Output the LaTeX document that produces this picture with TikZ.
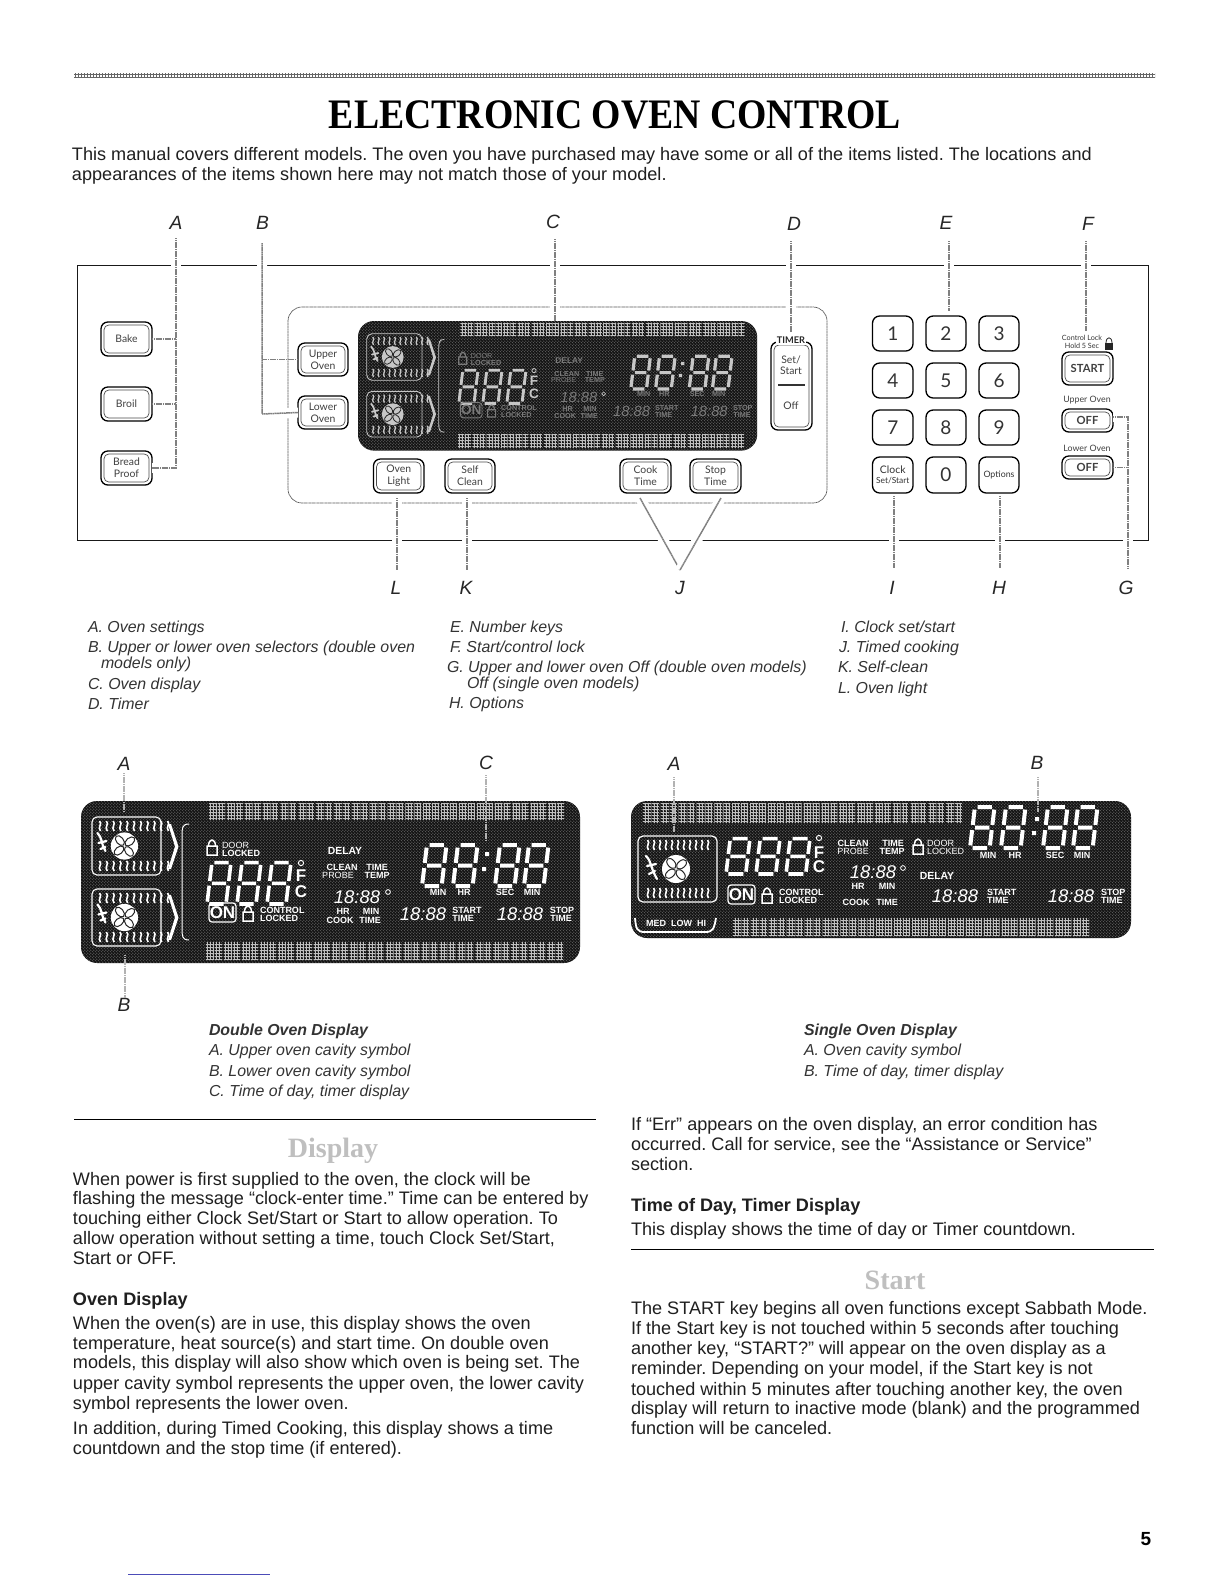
\documentclass[tikz,border=0pt]{standalone}
\usepackage{fontspec}
\setmainfont{Liberation Sans}
\newfontfamily\serifhead{Liberation Serif}
\newfontfamily\panelfont{Lato}
\usetikzlibrary{patterns,calc}
\frenchspacing
\pgfdeclarepatternformonly{lcdspeck}{\pgfqpoint{-.1bp}{-.1bp}}{\pgfqpoint{1.6bp}{1.6bp}}{\pgfqpoint{1.5bp}{1.5bp}}{%
  \pgfpathcircle{\pgfqpoint{.4bp}{.4bp}}{.28bp}\pgfpathcircle{\pgfqpoint{1.15bp}{1.15bp}}{.22bp}\pgfusepath{fill}}
\pgfdeclarepatternformonly{lcdgrid}{\pgfqpoint{-.1bp}{-.1bp}}{\pgfqpoint{1.6bp}{1.6bp}}{\pgfqpoint{1.5bp}{1.5bp}}{%
  \pgfsetlinewidth{.5bp}\pgfpathmoveto{\pgfqpoint{.4bp}{0bp}}\pgfpathlineto{\pgfqpoint{.4bp}{1.5bp}}%
  \pgfpathmoveto{\pgfqpoint{0bp}{.4bp}}\pgfpathlineto{\pgfqpoint{1.5bp}{.4bp}}\pgfusepath{stroke}}
\newcount\tnum
\def\dcol{white}\def\dtcol{white}\def\dS{1}
\tikzset{
 x=.5bp,y=-.5bp,
 txt/.style={inner sep=0,outer sep=0,anchor=base west,font=\frenchspacing\fontsize{9.05bp}{10bp}\selectfont,text=black!88},
 keytxt/.style={txt,font=\frenchspacing\fontsize{7.95bp}{10bp}\selectfont\itshape,text=black!80},
 lett/.style={inner sep=0,outer sep=0,font=\fontsize{9.6bp}{10bp}\selectfont\itshape,text=black!85},
 leader/.style={draw=black!50,line width=.75bp,dash pattern=on .7bp off .2bp},
 halo/.style={preaction={draw=white,solid,line width=5bp}},
 btnst/.style={draw=black,line width=.65bp,fill=white,rounded corners=3.4bp,inner sep=0,outer sep=0,align=center,text=black!75,font=\panelfont\fontsize{5.2bp}{6.1bp}\selectfont},
 btnin/.style={draw=black!70,line width=.35bp,rounded corners=2.4bp},
 keyst/.style={draw=black,line width=.65bp,fill=white,rounded corners=3.6bp,inner sep=0,outer sep=0,align=center,text=black!80,font=\panelfont\fontsize{9.5bp}{10bp}\selectfont},
 dl/.style={inner sep=0,outer sep=0,transform shape,text=\dtcol,font=\fontsize{4.5bp}{6bp}\selectfont},
 dlb/.style={dl,font=\fontsize{4.5bp}{6bp}\selectfont\bfseries},
 dlbig/.style={dl,font=\fontsize{5.2bp}{6bp}\selectfont\bfseries},
 dtime/.style={dl,font=\fontsize{9.2bp}{11bp}\selectfont\itshape},
 dunit/.style={dl,text=\dcol,font=\fontsize{8.5bp}{10bp}\selectfont\bfseries},
}
\newcommand\tl[4][txt]{\global\advance\tnum by 1 \node[#1] (t\the\tnum) at (#2,#3+6.5) {#4};}
\newcommand\dt[4][dlb]{\global\advance\tnum by 1 \node[#1] (t\the\tnum) at (#2,#3) {#4};}
\newcommand\dtw[4][dlb]{\global\advance\tnum by 1 \node[#1,anchor=west] (t\the\tnum) at (#2,#3) {#4};}
\newcommand\btn[6]{\node[btnst,minimum width={(#4-#2)*.5bp},minimum height={(#5-#3)*.5bp}] (#1) at ({(#2+#4)/2},{(#3+#5)/2}) {#6};
  \draw[btnin] ([shift={(3,-3)}]#1.south west) rectangle ([shift={(-3,3)}]#1.north east);}
\newcommand\kbtn[6]{\node[keyst,minimum width={(#4-#2)*.5bp},minimum height={(#5-#3)*.5bp}] (#1) at ({(#2+#4)/2},{(#3+#5)/2}) {#6};}
\newcommand\lcd[5]{\begin{scope}[shift={(#1,#2+#4)},xslant=.12]
  \pgfmathsetmacro\we{#3-.12*#4-#5}\pgfmathsetmacro\hh{#4-#5}\pgfmathsetmacro\mm{\hh/2}\pgfmathsetmacro\gp{#5*.65}
  \draw[draw=\dcol,line width={\dS*#5*.5bp}] (\gp,-\hh) -- (\we-\gp,-\hh) (\we,-\hh+\gp) -- (\we,-\mm-\gp) (\we,-\mm+\gp) -- (\we,-\gp) (\we-\gp,0) -- (\gp,0) (0,-\gp) -- (0,-\mm+\gp) (0,-\mm-\gp) -- (0,-\hh+\gp) (\gp,-\mm) -- (\we-\gp,-\mm);
 \end{scope}}
\newcommand\band[5]{\pgfmathsetmacro\bw{(#3-#1)/#5}
 \foreach \i in {1,...,#5}{\pgfmathsetmacro\xa{#1+(\i-1)*\bw}\pgfmathsetmacro\xb{\xa+\bw*.45}\pgfmathsetmacro\xc{\xa+\bw*.5}\pgfmathsetmacro\xd{\xa+\bw*.9}
  \fill[pattern=lcdgrid,pattern color=white!75!black] (\xa,#2) rectangle (\xb,#4) (\xc,#2) rectangle (\xd,#4);}}
\newcommand\lcklk[2]{\draw[draw=\dtcol,line width={\dS*.75bp}] (#1-5,#2-2) rectangle (#1+5,#2+7) (#1-3.5,#2-2) .. controls (#1-3.5,#2-10) and (#1+3.5,#2-10) .. (#1+3.5,#2-2);}
\newcommand\wigs[4]{\pgfmathsetmacro\stp{(#3-#1)/10}
 \foreach \i in {0,...,10}{\pgfmathsetmacro\xx{#1+\i*\stp}
  \draw[draw=\dcol,line width={\dS*.8bp}] (\xx-.5,#2-5) .. controls (\xx+3,#2-2) and (\xx-3,#2+1) .. (\xx+.5,#2+5);}}
\newcommand\fan[3]{\fill[fill=\dcol] (#1,#2) circle (#3);
 \foreach \a in {40,130,220,310}{\draw[draw=black!85,line width={\dS*.5bp}] (#1,#2) ++(\a:#3*.52) ellipse [x radius=#3*.42,y radius=#3*.26,rotate=\a];}}
\newcommand\cavity[4]{\draw[draw=\dcol,line width={\dS*.55bp},rounded corners=2.5bp] (#1,#2) rectangle (#3,#4);
 \wigs{#1+8}{#2+9}{#3-9}{}\wigs{#1+8}{#4-9}{#3-9}{}
 \pgfmathsetmacro\fx{#1+.47*(#3-#1)}\pgfmathsetmacro\fy{(#2+#4)/2}
 \fan{\fx}{\fy}{6.8bp}
 \draw[draw=\dcol,line width={\dS*1.1bp},line cap=round] (\fx-27,\fy-13) .. controls (\fx-22,\fy-8) and (\fx-24,\fy-4) .. (\fx-19,\fy+5) (\fx-26,\fy-3) -- (\fx-18,\fy-5) (\fx-24,\fy+3) -- (\fx-19,\fy+1);}
\newcommand\chev[2]{\fill[fill=\dcol] (#1,#2) -- (#1+3,#2) -- (#1+10.5,#2+22.5) -- (#1+3,#2+45) -- (#1,#2+45) -- (#1+7,#2+22.5) -- cycle;}
\newcommand\dback[2]{\fill[black!92,rounded corners=8bp] (0,0) rectangle (#1,#2);
 \fill[pattern=lcdspeck,pattern color=black!45,rounded corners=8bp] (0,0) rectangle (#1,#2);}
\newcommand\DoubleDisp{%
 \dback{499}{162}
 \band{128}{2}{485}{19}{20}\band{125}{141}{484}{159}{20}
 \cavity{11}{16}{80}{74}\cavity{11}{88}{80}{145}
 \chev{87}{23}\chev{87}{94}
 \draw[draw=\dcol,line width={\dS*.5bp}] (108,23) .. controls (101,23) and (101,27) .. (101,35) -- (101,127) .. controls (101,135) and (101,139) .. (108,139);
 \lcklk{131}{47}
 \dtw[dl]{141}{44}{DOOR}\dtw{141}{52}{LOCKED}
 \lcd{126}{58}{28}{45}{3.6}\lcd{156}{58}{28}{45}{3.6}\lcd{186}{58}{28}{45}{3.6}
 \draw[draw=\dcol,line width={\dS*.5bp}] (220,62) circle (2.6);
 \dt[dunit]{220}{75}{F}\dt[dunit]{220}{91}{C}
 \dt[dlbig]{264}{50}{DELAY}
 \dt{261}{66}{CLEAN}\dt{296}{66}{TIME}\dt[dl]{257}{74}{PROBE}\dt{296}{74}{TEMP}
 \dt[dtime]{276}{96}{18:88}
 \draw[draw=\dcol,line width={\dS*.4bp}] (307,91) circle (2.4);
 \dt{262}{110}{HR}\dt{290}{110}{MIN}\dt{259}{119}{COOK}\dt{289}{119}{TIME}
 \draw[draw=\dtcol,line width={\dS*.6bp},rounded corners=1.5bp] (128,102) rectangle (155,121);
 \dt[dunit,text=\dtcol]{141.5}{111.5}{ON}
 \lcklk{167}{113}
 \dtw{179}{109}{CONTROL}\dtw{179}{117}{LOCKED}
 \lcd{341}{40}{29}{45}{4}\lcd{372}{40}{29}{45}{4}\lcd{414}{40}{29}{45}{4}\lcd{443}{40}{29}{45}{4}
 \fill[fill=\dcol] (404,51) rectangle (408,55) (401,66) rectangle (405,70);
 \dt{357}{91}{MIN}\dt{383}{91}{HR}\dt{424}{91}{SEC}\dt{451}{91}{MIN}
 \dt[dtime]{342}{113}{18:88}\dt{386}{109}{START}\dt{382}{117}{TIME}
 \dt[dtime]{439}{113}{18:88}\dt{481}{109}{STOP}\dt{480}{117}{TIME}
}
\newcommand\SingleDisp{%
 \dback{500}{137}
 \band{12}{2}{333}{22}{18}\band{102}{117}{460}{135}{20}
 \draw[draw=\dcol,line width={\dS*.6bp},rounded corners=2.5bp] (7,35) rectangle (86,101);
 \wigs{17}{44}{77}{}\wigs{17}{92}{77}{}
 \fan{45}{68}{7bp}
 \draw[draw=\dcol,line width=1.1bp,line cap=round] (15,55) .. controls (21,61) and (19,66) .. (26,78) (16,65) -- (25,63) (18,73) -- (24,70);
 \lcd{95}{34}{28}{39}{3.6}\lcd{125}{34}{28}{39}{3.6}\lcd{155}{34}{28}{39}{3.6}
 \draw[draw=\dcol,line width=.5bp] (188,37) circle (2.6);
 \dt[dunit]{188}{52}{F}\dt[dunit]{188}{66}{C}
 \dt{222}{42}{CLEAN}\dt{262}{42}{TIME}\dt[dl]{222}{50}{PROBE}\dt{261}{50}{TEMP}
 \lcklk{287}{46}
 \dtw[dl]{296}{42}{DOOR}\dtw[dl]{296}{50}{LOCKED}
 \lcd{339}{2}{29}{45}{4}\lcd{370}{2}{29}{45}{4}\lcd{412}{2}{29}{45}{4}\lcd{442}{2}{29}{45}{4}
 \fill[fill=\dcol] (404,16) rectangle (408,20) (401,30) rectangle (405,34);
 \dt{357}{54}{MIN}\dt{384}{54}{HR}\dt{424}{54}{SEC}\dt{451}{54}{MIN}
 \dt[dtime]{242}{71}{18:88}
 \draw[draw=\dcol,line width=.4bp] (272,67) circle (2.4);
 \dt[dlbig]{306}{75}{DELAY}
 \dt{227}{85}{HR}\dt{256}{85}{MIN}\dt{225}{101}{COOK}\dt{256}{101}{TIME}
 \draw[draw=\dcol,line width=.6bp,rounded corners=1.5bp] (97,84) rectangle (124,103);
 \dt[dunit]{110.5}{93.5}{ON}
 \lcklk{136}{95}
 \dtw{148}{91}{CONTROL}\dtw{148}{99}{LOCKED}
 \dt[dtime]{324}{95}{18:88}\dtw{356}{91}{START}\dtw{356}{99}{TIME}
 \dt[dtime]{440}{95}{18:88}\dtw{470}{91}{STOP}\dtw{470}{99}{TIME}
 \draw[draw=\dcol,line width=.9bp] (4,117) .. controls (5,128) and (6,131) .. (14,131) -- (74,131) .. controls (82,131) and (83,128) .. (85,117);
 \dt{45}{122}{MED\ \ LOW\ \ HI}
}
\begin{document}
\begin{tikzpicture}
\useasboundingbox (0,0) rectangle (1224,1584);
\fill[white] (0,0) rectangle (1224,1584);
\fill[pattern=lcdgrid,pattern color=black!60] (74,73) rectangle (1155,77.5);
\node[inner sep=0,outer sep=0,transform shape,xscale=.898,font=\serifhead\fontsize{21bp}{24bp}\selectfont\bfseries] (title) at (615,114.5) {ELECTRONIC OVEN CONTROL};
\tl{72}{153.5}{This manual covers different models. The oven you have purchased may have some or all of the items listed. The locations and}
\tl{72}{174}{appearances of the items shown here may not match those of your model.}
\draw[line width=.5bp,black!90] (77,265) rectangle (1148,540);
\draw[draw=black!65,line width=.35bp,dash pattern=on .6bp off .2bp,rounded corners=7bp] (288,307) rectangle (827,503);
\coordinate (aTop) at (176,238); \coordinate (bTop) at (262,243); \coordinate (bBot) at (262,414);
\coordinate (cTop) at (555,239); \coordinate (cBot) at (555,321);
\coordinate (dTop) at (791,241); \coordinate (dBot) at (791,332);
\coordinate (eTop) at (949,241); \coordinate (eBot) at (949,311);
\coordinate (fTop) at (1086,241); \coordinate (fBot) at (1086,331);
\coordinate (lBot) at (397,570); \coordinate (kBot) at (467,570);
\coordinate (jTip) at (680,570); \coordinate (jL) at (640,498); \coordinate (jR) at (721,498);
\coordinate (iBot) at (894,568); \coordinate (hBot) at (1000,568); \coordinate (gBot) at (1128,568); \coordinate (gTop) at (1128,417);
\node[lett] (lA) at (176,223) {A};\node[lett] (lB) at (262.5,223) {B};\node[lett] (lC) at (553,222) {C};\node[lett] (lD) at (794,224) {D};
\node[lett] (lE) at (946,223) {E};\node[lett] (lF) at (1088,224) {F};
\node[lett] (lL) at (396,588) {L};\node[lett] (lK) at (466,588) {K};\node[lett] (lJ) at (680,588) {J};\node[lett] (lI) at (892,588) {I};\node[lett] (lH) at (999,588) {H};\node[lett] (lG) at (1126,588) {G};
\begin{scope}[shift={(358,321)},scale=.8]
 \def\dcol{black!22}\def\dtcol{black!52}\def\dS{.8}
 \DoubleDisp
\end{scope}
\btn{bake}{101}{322}{152}{356}{Bake}
\btn{broil}{101}{387}{152}{421}{Broil}
\btn{bread}{101}{451}{152}{485}{Bread\\Proof}
\btn{upper}{298}{343}{348}{376}{Upper\\Oven}
\btn{lower}{298}{396}{348}{429}{Lower\\Oven}
\btn{olight}{373.5}{459}{424}{493}{Oven\\Light}
\btn{sclean}{445}{459}{495}{493}{Self\\Clean}
\btn{ctime}{620}{459}{671}{493}{Cook\\Time}
\btn{stime}{690}{459}{741}{493}{Stop\\Time}
\btn{timer}{771}{342}{812}{430}{}
\node[inner sep=.7bp,fill=white,font=\panelfont\fontsize{4.6bp}{5bp}\selectfont\bfseries,text=black!85] (timerlab) at (791,340) {TIMER};
\node[inner sep=0,align=center,font=\panelfont\fontsize{5.2bp}{5.5bp}\selectfont,text=black!75] (settxt) at (791,365) {Set/\\Start};
\node[inner sep=0,font=\panelfont\fontsize{5.2bp}{6.1bp}\selectfont,text=black!75] (offtxt) at (791,406) {Off};
\coordinate (divL) at (778,385);\coordinate (divR) at (805,385);
\draw[line width=1bp,black!80] (divL) -- (divR);
\kbtn{k1}{872.5}{316}{913}{351}{1}\kbtn{k2}{926}{316}{966}{351}{2}\kbtn{k3}{979}{316}{1019}{351}{3}
\kbtn{k4}{872.5}{363}{913}{398}{4}\kbtn{k5}{926}{363}{966}{398}{5}\kbtn{k6}{979}{363}{1019}{398}{6}
\kbtn{k7}{872.5}{410}{913}{445}{7}\kbtn{k8}{926}{410}{966}{445}{8}\kbtn{k9}{979}{410}{1019}{445}{9}
\kbtn{kc}{872.5}{457}{913}{493}{\fontsize{5.2bp}{5.8bp}\selectfont Clock\\[-5bp]\fontsize{4.2bp}{5bp}\selectfont Set/Start}
\kbtn{k0}{926}{457}{966}{493}{0}
\kbtn{ko}{979}{457}{1019}{493}{\fontsize{4.4bp}{5bp}\selectfont Options}
\node[inner sep=0,align=center,font=\panelfont\fontsize{3.6bp}{3.7bp}\selectfont,text=black!80] (cl) at (1082,342) {Control Lock\\Hold 5 Sec};
\draw[black!85,line width=.4bp] (1106,343) .. controls (1106,336) and (1112,336) .. (1112,343);
\fill[black!85] (1105,343) rectangle (1113,350);
\btn{start}{1062}{352}{1113}{385}{\bfseries\fontsize{5.6bp}{6bp}\selectfont START}
\node[inner sep=0,font=\panelfont\fontsize{4.4bp}{5bp}\selectfont,text=black!75] (uo) at (1087,400) {Upper Oven};
\btn{offu}{1062}{409}{1113}{432}{\bfseries\fontsize{5.6bp}{6bp}\selectfont OFF}
\node[inner sep=0,font=\panelfont\fontsize{4.4bp}{5bp}\selectfont,text=black!75] (lo) at (1087,448) {Lower Oven};
\btn{offl}{1062}{456}{1113}{479}{\bfseries\fontsize{5.6bp}{6bp}\selectfont OFF}
\draw[leader,halo] (aTop) -- (aTop|-bread.east) -- (bread.east);
\draw[leader] (bake.east) -- (aTop|-bake.east);
\draw[leader] (broil.east) -- (aTop|-broil.east);
\draw[leader,halo] (bTop) -- (bBot) -- (lower.west);
\draw[leader] (upper.west) -- (bTop|-upper.west);
\draw[leader,halo] (cTop) -- (cBot);
\draw[leader,halo] (dTop) -- (dBot);
\draw[leader,halo] (eTop) -- (eBot);
\draw[leader,halo] (fTop) -- (fBot);
\draw[leader,halo,shorten <=2.5bp] (lBot|-olight.south) -- (lBot);
\draw[leader,halo,shorten <=2.5bp] (kBot|-sclean.south) -- (kBot);
\draw[leader,halo] (jL) -- (jTip);
\draw[leader,halo] (jR) -- (jTip);
\draw[leader,halo,shorten <=1.5bp] (iBot|-kc.south) -- (iBot);
\draw[leader,halo,shorten <=1.5bp] (hBot|-ko.south) -- (hBot);
\draw[leader,halo] (offu.east|-gTop) -- (gTop) -- (gBot);
\draw[leader] (offl.east) -- (gTop|-offl.east);
\tl[keytxt]{88}{626}{A. Oven settings}
\tl[keytxt]{88}{646}{B. Upper or lower oven selectors (double oven}
\tl[keytxt]{101}{662}{models only)}
\tl[keytxt]{88}{683}{C. Oven display}
\tl[keytxt]{88}{703}{D. Timer}
\tl[keytxt]{450}{626}{E. Number keys}
\tl[keytxt]{450}{646}{F. Start/control lock}
\tl[keytxt]{447}{666}{G. Upper and lower oven Off (double oven models)}
\tl[keytxt]{467}{682}{Off (single oven models)}
\tl[keytxt]{449}{702}{H. Options}
\tl[keytxt]{841}{626}{I. Clock set/start}
\tl[keytxt]{839}{646}{J. Timed cooking}
\tl[keytxt]{838}{666}{K. Self-clean}
\tl[keytxt]{838}{687}{L. Oven light}
\begin{scope}[shift={(81,801)}]
 \DoubleDisp
\end{scope}
\node[lett] (dlA) at (124,764) {A};\node[lett] (dlC) at (486,763) {C};\node[lett] (dlB) at (124,1005) {B};
\coordinate (dA1) at (124,773);\coordinate (dA2) at (124,811);
\coordinate (dC1) at (486,775);\coordinate (dC2) at (486,840);
\coordinate (dB1) at (125,955);\coordinate (dB2) at (125,998);
\draw[leader,draw=black!30,line width=1bp] (dA1) -- (dA2);
\draw[leader,draw=black!30,line width=1bp] (dC1) -- (dC2);
\draw[leader,draw=black!30,line width=1bp] (dB1) -- (dB2);
\begin{scope}[shift={(631,801)}]
 \SingleDisp
\end{scope}
\node[lett] (slA) at (674,764) {A};\node[lett] (slB) at (1037,763) {B};
\coordinate (sA1) at (674,777);\coordinate (sA2) at (674,832);
\coordinate (sB1) at (1038,777);\coordinate (sB2) at (1038,812);
\draw[leader,draw=black!30,line width=1bp] (sA1) -- (sA2);
\draw[leader,draw=black!30,line width=1bp] (sB1) -- (sB2);
\tl[keytxt,font=\fontsize{7.95bp}{10bp}\selectfont\bfseries\itshape]{209}{1029}{Double Oven Display}
\tl[keytxt]{209}{1049}{A. Upper oven cavity symbol}
\tl[keytxt]{209}{1070}{B. Lower oven cavity symbol}
\tl[keytxt]{209}{1090}{C. Time of day, timer display}
\tl[keytxt,font=\fontsize{7.95bp}{10bp}\selectfont\bfseries\itshape]{804}{1029}{Single Oven Display}
\tl[keytxt]{804}{1049}{A. Oven cavity symbol}
\tl[keytxt]{804}{1070}{B. Time of day, timer display}
\coordinate (r1a) at (74,1119);\coordinate (r1b) at (596,1119);
\draw[line width=.5bp] (r1a) -- (r1b);
\node[inner sep=0,text=black!25,font=\serifhead\fontsize{14bp}{16bp}\selectfont\bfseries] (hdisp) at (333,1151) {Display};
\tl{73}{1178.5}{When power is first supplied to the oven, the clock will be}
\tl{73}{1198}{flashing the message “clock-enter time.” Time can be entered by}
\tl{73}{1218}{touching either Clock Set/Start or Start to allow operation. To}
\tl{73}{1238}{allow operation without setting a time, touch Clock Set/Start,}
\tl{73}{1258}{Start or OFF.}
\tl[txt,font=\fontsize{9.05bp}{10bp}\selectfont\bfseries]{73}{1299}{Oven Display}
\tl{73}{1323}{When the oven(s) are in use, this display shows the oven}
\tl{73}{1343}{temperature, heat source(s) and start time. On double oven}
\tl{73}{1362}{models, this display will also show which oven is being set. The}
\tl{73}{1383}{upper cavity symbol represents the upper oven, the lower cavity}
\tl{73}{1403}{symbol represents the lower oven.}
\tl{73}{1428}{In addition, during Timed Cooking, this display shows a time}
\tl{73}{1448}{countdown and the stop time (if entered).}
\tl{631}{1124}{If “Err” appears on the oven display, an error condition has}
\tl{631}{1144}{occurred. Call for service, see the “Assistance or Service”}
\tl{631}{1164}{section.}
\tl[txt,font=\fontsize{9.05bp}{10bp}\selectfont\bfseries]{631}{1205}{Time of Day, Timer Display}
\tl{631}{1229}{This display shows the time of day or Timer countdown.}
\coordinate (r2a) at (631,1249);\coordinate (r2b) at (1154,1249);
\draw[line width=.5bp] (r2a) -- (r2b);
\node[inner sep=0,text=black!25,font=\serifhead\fontsize{14bp}{16bp}\selectfont\bfseries] (hstart) at (895,1280) {Start};
\tl{631}{1308}{The START key begins all oven functions except Sabbath Mode.}
\tl{631}{1328}{If the Start key is not touched within 5 seconds after touching}
\tl{631}{1348}{another key, “START?” will appear on the oven display as a}
\tl{631}{1368}{reminder. Depending on your model, if the Start key is not}
\tl{631}{1389}{touched within 5 minutes after touching another key, the oven}
\tl{631}{1408}{display will return to inactive mode (blank) and the programmed}
\tl{631}{1428}{function will be canceled.}
\node[inner sep=0,font=\fontsize{9.5bp}{10bp}\selectfont\bfseries] (pg) at (1146,1539) {5};
\coordinate (bl1) at (128,1574);\coordinate (bl2) at (270,1574);
\draw[draw=blue!60!black!70,line width=.4bp] (bl1) -- (bl2);
\end{tikzpicture}
\end{document}
